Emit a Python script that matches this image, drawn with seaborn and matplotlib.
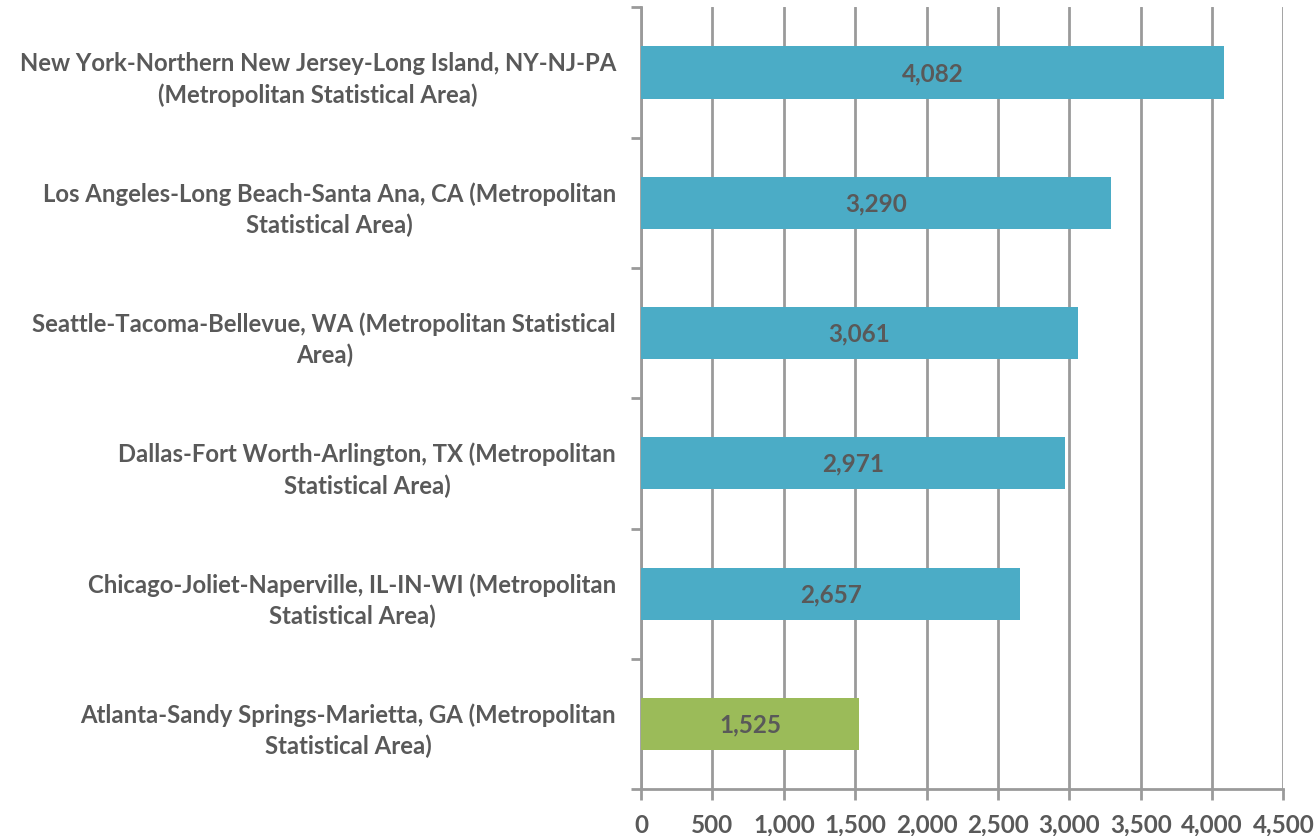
import matplotlib
matplotlib.use('Agg')
import matplotlib.pyplot as plt
from matplotlib.ticker import FuncFormatter, FixedLocator
import seaborn as sns
import pandas as pd

# data
areas = [
    'New York-Northern New Jersey-Long Island, NY-NJ-PA\n(Metropolitan Statistical Area)',
    'Los Angeles-Long Beach-Santa Ana, CA (Metropolitan\nStatistical Area)',
    'Seattle-Tacoma-Bellevue, WA (Metropolitan Statistical\nArea)',
    'Dallas-Fort Worth-Arlington, TX (Metropolitan\nStatistical Area)',
    'Chicago-Joliet-Naperville, IL-IN-WI (Metropolitan\nStatistical Area)',
    'Atlanta-Sandy Springs-Marietta, GA (Metropolitan\nStatistical Area)',
]
values = [4082, 3290, 3061, 2971, 2657, 1525]
groups = ['peer', 'peer', 'peer', 'peer', 'peer', 'atlanta']
x_ticks = [0, 500, 1000, 1500, 2000, 2500, 3000, 3500, 4000, 4500]

df = pd.DataFrame({'area': areas, 'value': values, 'group': groups})

sns.set_style('white')
plt.rcParams['font.family'] = ['Lato', 'DejaVu Sans']
txt = '#595959'
grid = '#9a9a9a'

fig = plt.figure(figsize=(13.15, 8.37), dpi=100)
ax = fig.add_axes([0.4875, 0.056, 0.4885, 0.934])

sns.barplot(data=df, y='area', x='value', hue='group', orient='h',
            palette={'peer': '#4BACC6', 'atlanta': '#9BBB59'},
            saturation=1, width=0.4, dodge=False, legend=False, ax=ax,
            zorder=3, linewidth=0)

ax.set_xlim(0, 4500)
ax.set_ylim(len(areas) - 0.5, -0.5)
ax.xaxis.set_major_locator(FixedLocator(x_ticks))
ax.xaxis.set_major_formatter(FuncFormatter(lambda v, p: f'{int(v):,}'))
ax.grid(axis='x', color=grid, linewidth=2, zorder=0)
ax.set_axisbelow(True)

# category ticks sit on the boundaries between bars
ax.set_yticks([i - 0.5 for i in range(len(areas) + 1)], minor=False)
ax.set_yticklabels([])
ax.set_yticks(range(len(areas)), minor=True)
ax.set_yticklabels(areas, minor=True)
ax.tick_params(axis='y', which='minor', left=False, length=0, pad=18)
ax.tick_params(axis='y', which='major', left=True, length=7, width=2,
               color=grid)
ax.tick_params(axis='x', bottom=True, length=8, width=2, color=grid, pad=9)
for lab in ax.get_yticklabels(minor=True):
    lab.set_fontsize(17.2)
    lab.set_fontweight('bold')
    lab.set_color(txt)
    lab.set_multialignment('center')
    lab.set_linespacing(1.4)
for lab in ax.get_xticklabels():
    lab.set_fontsize(17.5)
    lab.set_fontweight('bold')
    lab.set_color(txt)

for s in ['top', 'right']:
    ax.spines[s].set_visible(False)
for s in ['left', 'bottom']:
    ax.spines[s].set_color(grid)
    ax.spines[s].set_linewidth(2)

ax.set_xlabel('')
ax.set_ylabel('')

for i, v in enumerate(values):
    ax.text(v / 2, i, f'{v:,}', ha='center', va='center', fontsize=17.5,
            fontweight='bold', color=txt, zorder=4)

fig.savefig('out.png', dpi=100)
